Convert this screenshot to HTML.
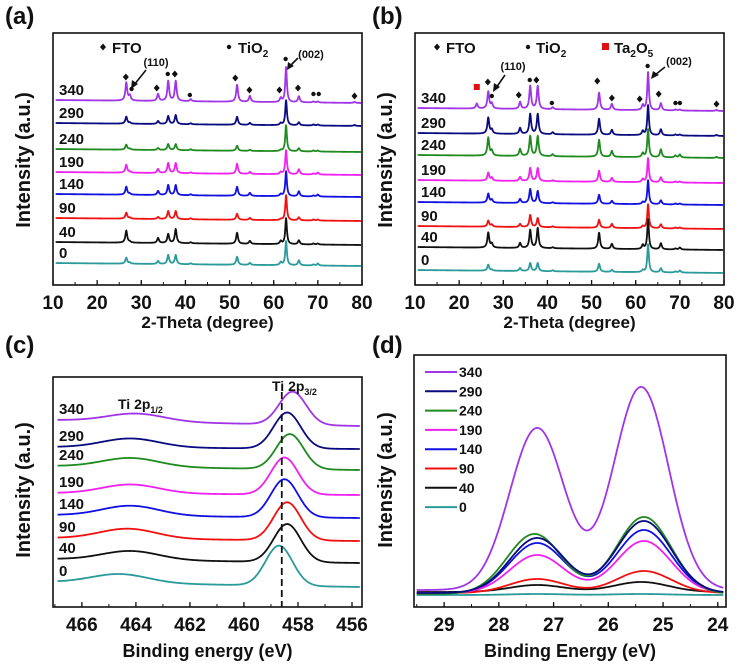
<!DOCTYPE html>
<html><head><meta charset="utf-8"><style>
html,body{margin:0;padding:0;background:#fff;}
svg{display:block;font-family:"Liberation Sans",Arial,sans-serif;font-weight:bold;}
</style></head><body>
<svg id="fig" width="739" height="669" viewBox="0 0 739 669" xmlns="http://www.w3.org/2000/svg"></svg>
<script>
// ---------- DATA ----------
const seriesNames = ["340","290","240","190","140","90","40","0"];
const seriesColors = ["#a035e6","#0a0a80","#1f8a1f","#f020f0","#1010e0","#f01010","#101010","#2a9a9a"];

// XRD peak positions (2-theta)
const xrdPeaks = [24.0,26.6,27.4,33.8,36.1,37.8,41.2,51.7,54.6,61.6,62.8,65.7,69.0,70.0,78.3];
// panel (a) baselines (px offsets) and peak heights
const aBase = [100,123,149,172,194,218,242,263];
const aHeights = [
 [0,18,5,7,20,20,2,17,6,4,35,6,1,1,1],
 [0,7,1,3,8,9,1,8,2,2,25,3,1,1,1],
 [0,5,1,2,6,6,1,5,1,1,26,3,1,1,0],
 [0,8,1,4,10,10,1,10,2,2,24,5,1,2,0],
 [0,8,1,4,10,10,1,9,3,2,25,5,1,2,0],
 [0,6,1,2,8,8,1,6,2,1,25,3,1,1,0],
 [0,12,1,5,9,14,1,11,3,3,26,4,1,1,0],
 [0,6,1,3,9,9,1,8,2,3,24,5,1,2,0]
];
const bBase = [108,133,155,180,202,226,247,270];
const bHeights = [
 [5,17,5,7,23,23,2,17,6,5,38,7,1,1,1],
 [0,16,4,6,20,20,2,16,5,4,30,6,1,1,1],
 [0,18,5,7,20,20,2,17,6,4,28,8,2,3,1],
 [0,8,3,4,13,13,1,11,4,3,24,5,1,1,0],
 [0,9,3,4,14,12,1,9,3,2,24,4,1,1,0],
 [0,6,2,3,12,9,1,8,4,2,24,4,1,1,0],
 [0,15,4,5,18,20,1,16,5,4,30,6,1,2,0],
 [0,6,1,3,8,8,1,8,2,2,28,4,1,2,0]
];
// XPS Ti 2p (panel c)
const cBaseLeft = [420,447,466,493,515,538,559,582];
const cBaseRight = [426,449,470,495,518,541,563,587];
const cP1Pos = [464.0,464.2,464.2,464.2,464.2,464.3,464.2,464.6];
const cP1H = [8,9,9,9,10,10,9,9];
const cP2Pos = [458.2,458.4,458.3,458.5,458.5,458.4,458.4,458.7];
const cP2H = [33,36,35,37,38,38,38,40];
// VB (panel d)
const dP1Pos = [27.3,27.3,27.35,27.3,27.3,27.3,27.3,27.3];
const dP1H = [162,55,60,38,50,14,7,1];
const dP2Pos = [25.4,25.35,25.35,25.35,25.35,25.35,25.4,25.4];
const dP2H = [203,72,77,52,63,22,10,1];
const dBase = [590,593,594,593,593,593,592,595];

const aTicks = [10,20,30,40,50,60,70,80];
const cTicks = [466,464,462,460,458,456];
const dTicks = [29,28,27,26,25,24];

// ---------- DRAW ----------
const NS="http://www.w3.org/2000/svg";
const svg=document.getElementById('fig');
function el(tag,attrs,parent){const e=document.createElementNS(NS,tag);for(const k in attrs)e.setAttribute(k,attrs[k]);(parent||svg).appendChild(e);return e;}
function txt(s,x,y,size,anchor,parent,fill){const t=el('text',{x:x,y:y,'font-size':size,'text-anchor':anchor||'middle',fill:fill||'#111'},parent);t.textContent=s;return t;}
function scale(d0,d1,p0,p1){return v=>p0+(v-d0)/(d1-d0)*(p1-p0);}

function frame(name,x0,y0,x1,y1,sx,ticks,minorStep,dmin,dmax){
  const g=el('g',{});
  
  
  el('rect',{x:x0,y:y0,width:x1-x0,height:y1-y0,fill:'none',stroke:'#111','stroke-width':1.6},g);
  ticks.forEach(t=>{const x=sx(t);el('line',{x1:x,y1:y1,x2:x,y2:y1-5,stroke:'#111','stroke-width':1.3},g);
    const lb=txt(String(t),x,y1+24,19,'middle',g);
    
    });
  const lo=Math.min(dmin,dmax),hi=Math.max(dmin,dmax);
  for(let v=Math.ceil(lo/minorStep)*minorStep; v<=hi; v+=minorStep){const x=sx(v);el('line',{x1:x,y1:y1,x2:x,y2:y1-3,stroke:'#111','stroke-width':1},g);}
  return g;
}
function ytitle(x,y,parent){const t=el('text',{x:0,y:0,'font-size':20,'text-anchor':'middle',fill:'#111',transform:`translate(${x},${y}) rotate(-90)`},parent);t.textContent='Intensity (a.u.)';
  }
function panelLabel(s,x,y){const t=txt(s,x,y,24,'start');}

// ---- XRD panels ----
function xrd(name,x0,y0,x1,y1,base,heights){
  const sx=scale(10,80,x0,x1);
  frame(name,x0,y0,x1,y1,sx,aTicks,5,10,80);
  const g=el('g',{});
  
  
  for(let i=0;i<seriesNames.length;i++){
    let d='';
    for(let t=10.6;t<=79.8;t+=0.05){
      let y=base[i]+3*(t-10)/70;
      xrdPeaks.forEach((p,k)=>{const gm=(k===10)?0.22:0.25;y-=heights[i][k]/(1+((t-p)/gm)**2);});
      d+=(d?'L':'M')+sx(t).toFixed(2)+','+y.toFixed(2);
    }
    const path=el('path',{d:d,fill:'none',stroke:seriesColors[i],'stroke-width':1.8,'stroke-linejoin':'round'},g);
    
    
    const lb=txt(seriesNames[i],x0+6,base[i]-5,15,'start',g);
    
    
  }
  txt('2-Theta (degree)',(x0+x1)/2,y1+43,17,'middle');
  return sx;
}
function diamond(x,y,g){el('path',{d:`M${x},${y-3.5}L${x+3},${y}L${x},${y+3.5}L${x-3},${y}Z`,fill:'#111'},g);}
function dot(x,y,g){el('circle',{cx:x,cy:y,r:2.2,fill:'#111'},g);}

panelLabel('(a)',5,24);
const sxa=xrd('xrd-a',53,33,362,285,aBase,aHeights);
ytitle(30,160);
{const g=el('g',{});
 [[26.5,77,'d'],[27.8,89,'o'],[33.5,88,'d'],[36.0,74,'o'],[37.6,74,'d'],[41.0,95,'o'],[51.3,78,'d'],[54.5,90,'d'],[61.3,90,'d'],[62.7,59,'o'],[65.5,88,'d'],[69.0,94,'o'],[70.2,94,'o'],[78.3,96,'d']]
 .forEach(m=>m[2]==='d'?diamond(sxa(m[0]),m[1],g):dot(sxa(m[0]),m[1],g));
 diamond(103,47,g);txt('FTO',112,53,15,'start',g);dot(229,47,g);
 const t=txt('TiO',238,53,15,'start',g);const s=el('tspan',{'font-size':10,dy:4},t);s.textContent='2';
 txt('(110)',156,66,11,'middle',g);el('line',{x1:146,y1:70,x2:134,y2:85,stroke:'#111','stroke-width':1.6},g);el('path',{d:'M131,89L132,80L138,84Z',fill:'#111'},g);
 txt('(002)',311,58,11,'middle',g);el('line',{x1:298,y1:58,x2:290,y2:66,stroke:'#111','stroke-width':1.6},g);el('path',{d:'M287,70L288,62L294,66Z',fill:'#111'},g);}

panelLabel('(b)',372,24);
const sxb=xrd('xrd-b',415,33,724,285,bBase,bHeights);
ytitle(392,160);
{const g=el('g',{});
 el('rect',{x:sxb(24)-3,y:84,width:6,height:6,fill:'#e01010'},g);
 [[26.5,82,'d'],[27.4,96,'o'],[33.5,95,'d'],[36.0,80,'o'],[37.5,80,'d'],[41.0,103,'o'],[51.3,81,'d'],[54.6,98,'d'],[60.9,99,'d'],[62.7,66,'o'],[65.2,94,'d'],[69.0,103,'o'],[70.0,103,'o'],[78.3,104,'d']]
 .forEach(m=>m[2]==='d'?diamond(sxb(m[0]),m[1],g):dot(sxb(m[0]),m[1],g));
 diamond(437,47,g);txt('FTO',446,53,15,'start',g);dot(528,47,g);
 let t=txt('TiO',536,53,15,'start',g);let s=el('tspan',{'font-size':10,dy:4},t);s.textContent='2';
 el('rect',{x:602,y:43,width:7,height:7,fill:'#e01010'},g);
 t=txt('Ta',614,53,15,'start',g);s=el('tspan',{'font-size':10,dy:4},t);s.textContent='2';
 s=el('tspan',{'font-size':15,dy:-4},t);s.textContent='O';s=el('tspan',{'font-size':10,dy:4},t);s.textContent='5';
 txt('(110)',513,70,11,'middle',g);el('line',{x1:505,y1:75,x2:496,y2:88,stroke:'#111','stroke-width':1.6},g);el('path',{d:'M493,92L494,83L500,87Z',fill:'#111'},g);
 txt('(002)',679,65,11,'middle',g);el('line',{x1:665,y1:67,x2:655,y2:75,stroke:'#111','stroke-width':1.6},g);el('path',{d:'M651,79L653,71L659,75Z',fill:'#111'},g);}

// ---- panel c ----
panelLabel('(c)',5,353);
{
 const x0=53,x1=362,y0=377,y1=607;
 const sx=scale(467.07,455.63,x0,x1);
 frame('xps-c',x0,y0,x1,y1,sx,cTicks,1,467.07,455.63);
 ytitle(30,490);
 const g=el('g',{});
 for(let i=0;i<seriesNames.length;i++){
   let d='';
   for(let e=466.9;e>=455.7;e-=0.03){
     const f=(466.9-e)/11.2;
     let y=cBaseLeft[i]+(cBaseRight[i]-cBaseLeft[i])*f;
     y-=cP1H[i]*Math.exp(-((e-cP1Pos[i])**2)/(2*1.05**2));
     y-=cP2H[i]*Math.exp(-((e-cP2Pos[i])**2)/(2*0.5**2));
     d+=(d?'L':'M')+sx(e).toFixed(2)+','+y.toFixed(2);
   }
   const p=el('path',{d:d,fill:'none',stroke:seriesColors[i],'stroke-width':1.8},g);
   
   
   const lb=txt(seriesNames[i],x0+6,cBaseLeft[i]-6,15,'start',g);
   
   
 }
 el('line',{x1:sx(458.6),y1:392,x2:sx(458.6),y2:y1,stroke:'#111','stroke-width':1.8,'stroke-dasharray':'7,4'},g);
 let t=txt('Ti 2p',118,409,14,'start',g);let s=el('tspan',{'font-size':9,dy:4},t);s.textContent='1/2';
 t=txt('Ti 2p',272,391,14,'start',g);s=el('tspan',{'font-size':9,dy:4},t);s.textContent='3/2';
 txt('Binding energy (eV)',(x0+x1)/2,657,18,'middle');
}

// ---- panel d ----
panelLabel('(d)',372,353);
{
 const x0=414,x1=726,y0=355,y1=607;
 const sx=scale(29.55,23.85,x0,x1);
 frame('vb-d',x0,y0,x1,y1,sx,dTicks,0.5,29.55,23.85);
 ytitle(392,480);
 const g=el('g',{});
 for(let i=seriesNames.length-1;i>=0;i--){
   let d='';
   for(let e=29.5;e>=23.9;e-=0.02){
     let y=dBase[i];
     y-=dP1H[i]*Math.exp(-((e-dP1Pos[i])**2)/(2*0.5**2));
     y-=dP2H[i]*Math.exp(-((e-dP2Pos[i])**2)/(2*0.5**2));
     d+=(d?'L':'M')+sx(e).toFixed(2)+','+y.toFixed(2);
   }
   const p=el('path',{d:d,fill:'none',stroke:seriesColors[i],'stroke-width':1.8},g);
   
   
 }
 const lg=el('g',{});
 seriesNames.forEach((n,i)=>{const y=372+i*19.3;
   const ln=el('line',{x1:425,y1:y,x2:457,y2:y,stroke:seriesColors[i],'stroke-width':2},lg);
   
   txt(n,459,y+5,14,'start',lg);});
 txt('Binding Energy (eV)',(x0+x1)/2,657,18,'middle');
}
</script>
</body></html>
